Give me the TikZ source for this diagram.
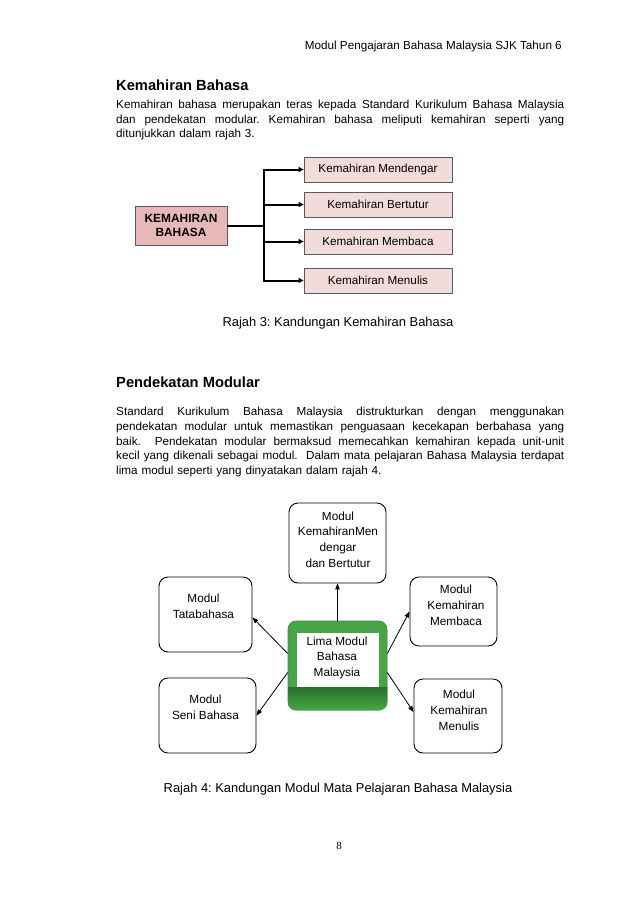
\documentclass[tikz,border=0pt]{standalone}
\usepackage{fontspec}
\setmainfont{Liberation Sans}
\newfontfamily\pnfont{Liberation Serif}
\usetikzlibrary{arrows.meta,calc}
\definecolor{pinkdark}{HTML}{E6B9B8}
\definecolor{pinklight}{HTML}{F2DCDB}
\definecolor{boxline}{HTML}{5A5A5A}
\definecolor{gtop}{HTML}{47A447}
\definecolor{gdark}{HTML}{2A702A}
\definecolor{glow}{HTML}{48A848}
\frenchspacing
\newcommand{\jline}[1]{{\spaceskip=0pt\xspaceskip=0pt\makebox[448pt][s]{#1}}}
\tikzset{
  body/.style={font=\fontsize{11.7}{14.7}\selectfont, inner sep=0pt},
  para/.style={body, text width=448pt, align=left, anchor=base west},
  heading/.style={font=\fontsize{14.7}{17}\selectfont\bfseries, inner sep=0pt, anchor=base west},
  caption/.style={font=\fontsize{12.9}{15}\selectfont, inner sep=0pt, anchor=base},
  skill/.style={draw=boxline, fill=pinklight, line width=0.8pt, minimum width=148pt, minimum height=25pt, inner sep=0pt, font=\fontsize{11.7}{14}\selectfont},
  mainskill/.style={draw=boxline, fill=pinkdark, line width=0.9pt, minimum width=92pt, minimum height=39pt, inner sep=0pt, align=center, font=\fontsize{11.9}{14}\selectfont\bfseries},
  thickln/.style={line width=2pt, black},
  tip1/.style={-{Triangle[length=5pt,width=5pt]}},
  modbox/.style={draw=black, line width=0.9pt, rounded corners=9pt, inner sep=0pt},
  modtext/.style={font=\fontsize{11.8}{15.8}\selectfont, align=center, inner sep=0pt},
  thinarrow/.style={line width=0.8pt, -{Triangle[length=6pt,width=4.5pt]}}
}
\begin{document}
\begin{tikzpicture}[x=1pt,y=-1pt]
\useasboundingbox (0,0) rectangle (638,903);
\fill[white] (0,0) rectangle (638,903);

% header
\node[body, anchor=base east] (hdr) at (562,49) {Modul Pengajaran Bahasa Malaysia SJK Tahun 6};

% section 1
\node[heading] (h1) at (116,90.5) {Kemahiran Bahasa};
\node[para] (p1) at (116,108.5) {\jline{Kemahiran bahasa merupakan teras kepada Standard Kurikulum Bahasa Malaysia}\\
\jline{dan pendekatan modular. Kemahiran bahasa meliputi kemahiran seperti yang}\\
ditunjukkan dalam rajah 3.};

% diagram 1
\node[mainskill] (kb) at (181,225.5) {KEMAHIRAN\\BAHASA};
\node[skill] (s1) at (378,169.5) {Kemahiran Mendengar};
\node[skill] (s2) at (378,204.5) {Kemahiran Bertutur};
\node[skill] (s3) at (378,241.5) {Kemahiran Membaca};
\node[skill] (s4) at (378,280.5) {Kemahiran Menulis};
\coordinate (tx) at (264,0);
\draw[thickln] (kb.east) -- (kb.east -| tx);
\draw[thickln, {Triangle[length=5pt,width=5pt]}-{Triangle[length=5pt,width=5pt]}] (s1.west) -- (s1.west -| tx) -- (s4.west -| tx) -- (s4.west);
\draw[thickln, tip1] (s2.west -| tx) -- (s2.west);
\draw[thickln, tip1] (s3.west -| tx) -- (s3.west);
\node[caption] (c3) at (338,326.5) {Rajah 3: Kandungan Kemahiran Bahasa};

% section 2
\node[heading] (h2) at (116,387) {Pendekatan Modular};
\node[para] (p2) at (116,415.7) {\jline{Standard Kurikulum Bahasa Malaysia distrukturkan dengan menggunakan}\\
\jline{pendekatan modular untuk memastikan penguasaan kecekapan berbahasa yang}\\
\jline{baik.\ \ Pendekatan modular bermaksud memecahkan kemahiran kepada unit-unit}\\
\jline{kecil yang dikenali sebagai modul.\ \ Dalam mata pelajaran Bahasa Malaysia terdapat}\\
lima modul seperti yang dinyatakan dalam rajah 4.};

% diagram 2
\node[modbox, minimum width=97pt, minimum height=80pt] (top) at (337.5,543) {};
\node[modbox, minimum width=93pt, minimum height=75pt] (tata) at (205.5,614.5) {};
\node[modbox, minimum width=97pt, minimum height=75pt] (seni) at (207.5,715.5) {};
\node[modbox, minimum width=87pt, minimum height=69pt] (memb) at (453.5,611.5) {};
\node[modbox, minimum width=88pt, minimum height=74pt] (menu) at (458,716) {};

\node[modtext] (toptx) at (338,539.5) {Modul\\KemahiranMen\\dengar\\dan Bertutur};
\node[modtext] (tatatx) at (203.5,606) {Modul\\Tatabahasa};
\node[modtext] (senitx) at (205.5,707.5) {Modul\\Seni Bahasa};
\node[modtext] (membtx) at (456,605) {Modul\\Kemahiran\\Membaca};
\node[modtext] (menutx) at (459,710.5) {Modul\\Kemahiran\\Menulis};

% central green box
\node[fill=gtop, draw=gtop!85!black, line width=0.6pt, rounded corners=8pt, minimum width=99pt, minimum height=89pt, inner sep=0pt] (lm) at (337.5,665.5) {};
\begin{scope}
  \clip[rounded corners=8pt] (lm.north west) rectangle (lm.south east);
  \shade[top color=gdark, bottom color=glow] (288,687) rectangle (388,711);
\end{scope}
\fill[white] (297,633) rectangle (379,687);
\node[modtext, font=\fontsize{11.8}{15.5}\selectfont] (lmtx) at (337,657.5) {Lima Modul\\Bahasa\\Malaysia};

\draw[thinarrow] (lm.north) -- (lm.north |- top.south);
\draw[thinarrow] ([yshift=12pt]lm.west) -- ([yshift=-3pt]tata.east);
\draw[thinarrow] ([yshift=-7pt]lm.west) -- (seni.east);
\draw[thinarrow] ([yshift=12pt]lm.east) -- (memb.west);
\draw[thinarrow] ([yshift=-7pt]lm.east) -- ([yshift=4pt]menu.west);

\node[caption] (c4) at (338,792.5) {Rajah 4: Kandungan Modul Mata Pelajaran Bahasa Malaysia};

% page number
\node[inner sep=0pt, anchor=base, font=\pnfont\fontsize{11}{13}\selectfont] (pg) at (339,849) {8};
\end{tikzpicture}
\end{document}
